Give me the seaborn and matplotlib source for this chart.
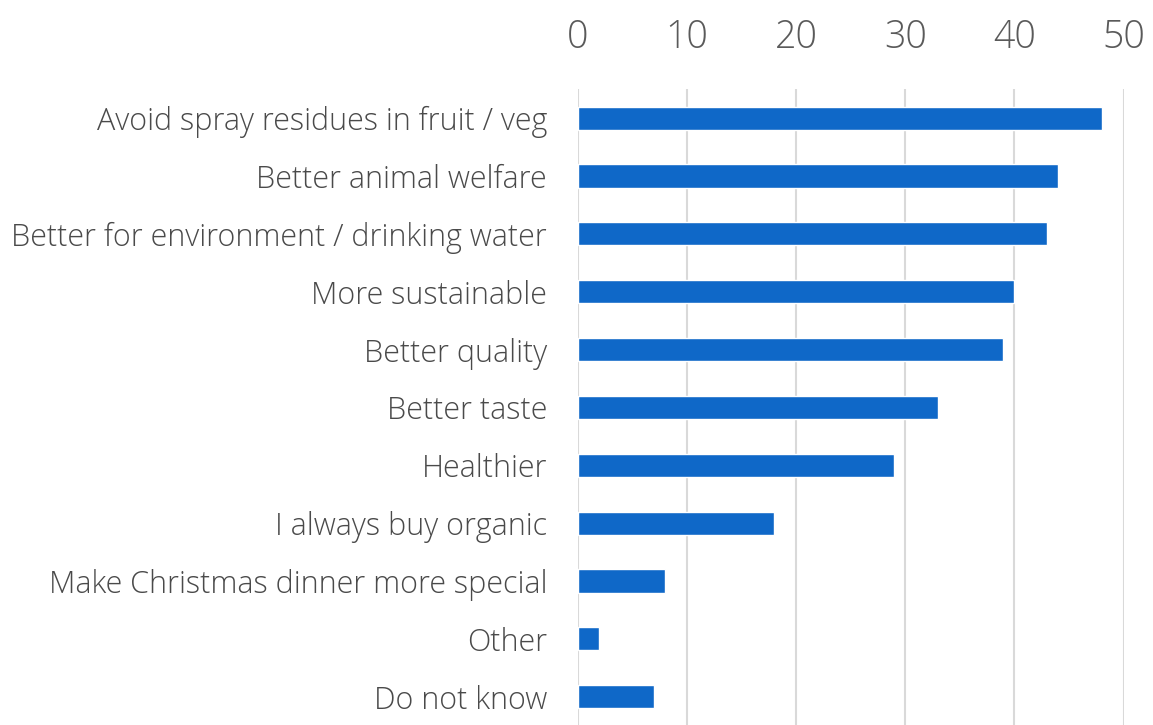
#Importing necessary libraries:
import pandas as pd
import seaborn as sns
import matplotlib.pyplot as plt

#Chart data:
reasons = ['Avoid spray residues in fruit / veg', 'Better animal welfare',
           'Better for environment / drinking water', 'More sustainable',
           'Better quality', 'Better taste', 'Healthier', 'I always buy organic',
           'Make Christmas dinner more special', 'Other', 'Do not know']
shares = [48, 44, 43, 40, 39, 33, 29, 18, 8, 2, 7]
x_ticks = [0, 10, 20, 30, 40, 50]

df = pd.DataFrame({'reason': reasons, 'share': shares})

sns.set_theme(style='white')
plt.rcParams['font.family'] = ['Open Sans', 'DejaVu Sans']

fig = plt.figure(figsize=(11.53, 7.25), dpi=100)
ax = fig.add_axes([0.501, -0.001, 0.4735, 0.878])

sns.barplot(data=df, x='share', y='reason', orient='h', color='#0f68c8',
            width=0.4, saturation=1, ax=ax)

#Axis styling: ticks on top, light vertical grid
ax.set_xlim(0, 50)
ax.set_xticks(x_ticks)
ax.xaxis.tick_top()
ax.grid(axis='x', color='#d9d9d9', linewidth=1.5)
ax.set_axisbelow(True)
for s in ax.spines.values():
    s.set_visible(False)
ax.set_xlabel('')
ax.set_ylabel('')
ax.tick_params(axis='x', length=0, pad=23, labelsize=27, labelcolor='#5a5a5a')
ax.tick_params(axis='y', length=0, pad=22, labelsize=22, labelcolor='#4a4a4a')
for lab in ax.get_xticklabels() + ax.get_yticklabels():
    lab.set_fontweight('light')

fig.savefig('out.png', dpi=100)
